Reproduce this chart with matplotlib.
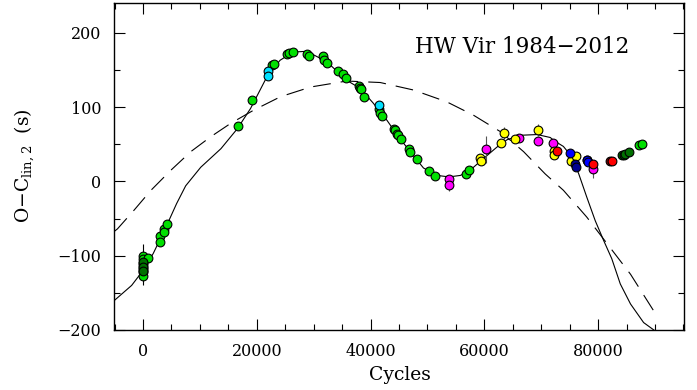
import numpy as np
import matplotlib
matplotlib.use("Agg")
import matplotlib.pyplot as plt

plt.rcParams['font.family'] = ['DejaVu Serif']
plt.rcParams['mathtext.fontset'] = 'dejavuserif'

# ---------- fitted curves ----------
fit_x = [-5000, -2000, 0, 1800, 3000, 4300, 5900, 7500, 10150, 13700, 16600,
         18900, 21800, 24100, 26400, 28800, 32300, 35800, 38200, 40500, 42900,
         44900, 47500, 49300, 51700, 53800, 55800, 57500, 59900, 62200, 64000,
         66300, 69300, 71600, 72200, 73900, 75400, 76600, 78000, 79500, 81000,
         82400, 83900, 85700, 88000, 89800]
fit_y = [-160, -140, -120, -97, -78, -57, -30, -6, 19, 44, 71,
         98, 141, 163, 174, 175, 161, 136, 125, 105, 82,
         60, 35, 18, 8, 6, 8, 15, 31, 46, 56,
         62, 63, 59, 55, 47, 33, 10, -21, -53, -80,
         -104, -138, -165, -190, -200]

quad_x = [-5000, -4500, -1600, 1400, 4900, 8400, 11900, 15400, 19500, 24200,
          29500, 35800, 41700, 47500, 53400, 58100, 62800, 66900, 70700,
          73900, 78000, 81600, 85700, 90000]
quad_y = [-67, -64, -39, -12, 15, 40, 60, 78, 96, 114,
          127, 135, 133, 123, 107, 89, 67, 40, 10,
          -12, -48, -84, -125, -177]

# ---------- timing points, grouped by colour ----------
green_x = [0, 0, 0, 0, 0, 0, 0, 0, 930, 2990, 2990, 3690, 3690, 4280,
           16770, 19170, 22750, 23000, 25270, 25600, 26330, 28900, 29200,
           31720, 31850, 32300, 34250, 35230, 35650, 37900, 38170, 38400,
           38930, 41500, 41690, 42090, 44200, 44330, 44600, 44910, 45380,
           46840, 47000, 48140, 50190, 51370, 56820, 57220, 87120, 87720]
green_y = [-100, -104, -110, -113, -116, -119, -122, -128, -103, -74, -81, -64, -68, -58,
           74, 109, 156, 158, 172, 172.5, 174, 172, 169,
           169, 163.5, 159, 149, 144.5, 139.6, 128, 126, 124,
           114, 98, 92, 88, 71, 69, 64, 62, 57,
           43, 40, 30, 14, 7, 10, 15, 48.6, 50]

dkgreen_x = [0, 0, 0, 84200, 84500, 84780, 85370]
dkgreen_y = [-108, -115, -121, 35, 36, 37.3, 39]

cyan_x = [21930, 21930, 41510]
cyan_y = [149, 142, 102.7]

magenta_x = [53830, 53830, 60330, 66140, 69420, 72070, 79100]
magenta_y = [2.7, -5.4, 43, 58.5, 54, 51, 16]
magenta_err = [0, 7, 18, 0, 0, 0, 12]

yellow_x = [59280, 59400, 62910, 63370, 65430, 69420, 72200, 72200, 75300, 76160]
yellow_y = [31.5, 27.5, 51.8, 65, 56.7, 69, 41, 35, 28, 33.8]
yellow_err = [0, 0, 0, 8, 0, 8, 0, 0, 0, 0]

maroon_x = [82140, 78000]
maroon_y = [27.4, 29]

red_x = [72770, 79100, 82440]
red_y = [41, 24, 27.4]

blue_x = [75110, 78040, 78200]
blue_y = [38, 28.4, 26]

navy_x = [75990, 76100]
navy_y = [24, 19.5]

zero_err_x = [0]
zero_err_y = [-112]
zero_err = [28]

# ---------- plot ----------
fig = plt.figure(figsize=(6.97, 3.90), dpi=100)
ax = fig.add_axes([114 / 697, 1 - 330 / 390, 570 / 697, 327 / 390])

ax.plot(quad_x, quad_y, color="black", lw=0.8, dashes=(16, 9))
ax.plot(fit_x, fit_y, color="black", lw=0.8)

ax.errorbar(zero_err_x, zero_err_y, yerr=zero_err, fmt="none", ecolor="black", elinewidth=0.8)
ax.errorbar(magenta_x, magenta_y, yerr=magenta_err, fmt="none", ecolor="#555555", elinewidth=0.8)
ax.errorbar(yellow_x, yellow_y, yerr=yellow_err, fmt="none", ecolor="#555555", elinewidth=0.8)

mk = dict(marker="o", ms=6.3, mec="black", mew=0.8, ls="none")
ax.plot(green_x, green_y, mfc="#00e000", **mk)
ax.plot(dkgreen_x, dkgreen_y, mfc="#007000", **mk)
ax.plot(cyan_x, cyan_y, mfc="#00e0ff", **mk)
ax.plot(magenta_x, magenta_y, mfc="#ff00ff", **mk)
ax.plot(yellow_x, yellow_y, mfc="#ffff00", **mk)
ax.plot(maroon_x, maroon_y, mfc="#800000", **mk)
ax.plot(blue_x, blue_y, mfc="#0000ff", **mk)
ax.plot(navy_x, navy_y, mfc="#000090", **mk)
ax.plot(red_x, red_y, mfc="#ff0000", **mk)

ax.set_xlim(-5100, 95100)
ax.set_ylim(-200, 240)
ax.set_xticks([0, 20000, 40000, 60000, 80000])
ax.set_xticks(np.arange(-5000, 95001, 5000), minor=True)
ax.set_yticks([-200, -100, 0, 100, 200])
ax.set_yticks(np.arange(-200, 241, 50), minor=True)
ax.set_yticklabels(["\u2212200", "\u2212100", "0", "100", "200"])
ax.tick_params(which="both", direction="in", top=True, right=True, labelsize=11.5, width=0.8)
ax.tick_params(which="major", length=8, pad=9)
ax.tick_params(which="minor", length=4)
for sp in ax.spines.values():
    sp.set_linewidth(1.0)

ax.text((415 - 114) / 570, (330 - 47) / 327, "HW Vir 1984\u22122012", transform=ax.transAxes,
        fontsize=15.5, ha="left", va="center")

fig.text(400 / 697, 1 - 375 / 390, "Cycles", ha="center", va="center", fontsize=13.5)
fig.text(25 / 697, 1 - 166 / 390, r"O$-$C$_{\rm lin,2}$  (s)", ha="center", va="center",
         rotation=90, fontsize=13.5)

fig.savefig("out.png", dpi=100)
